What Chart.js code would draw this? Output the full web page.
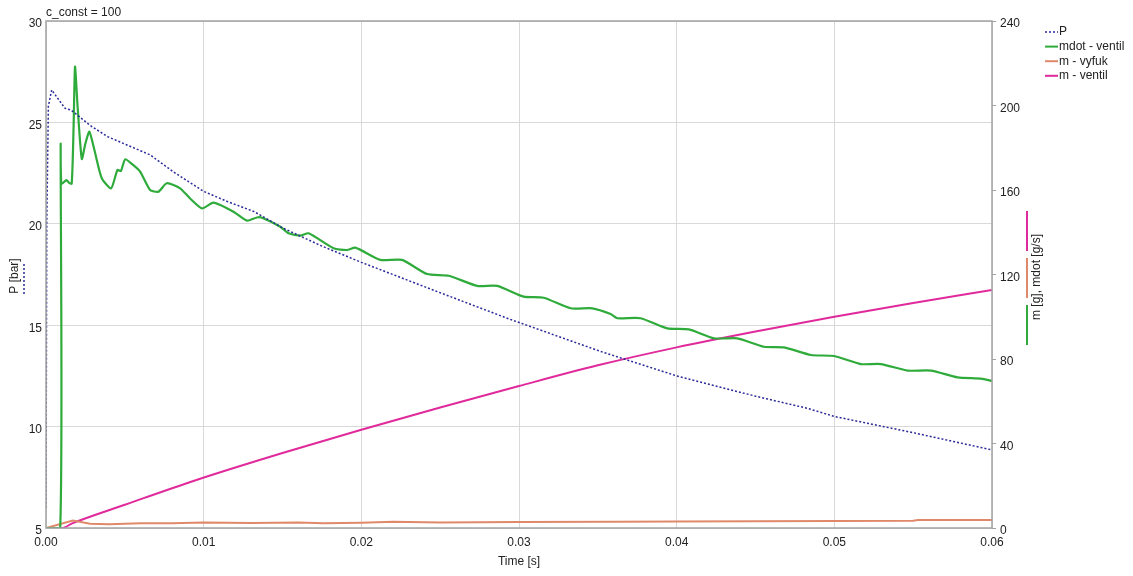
<!DOCTYPE html>
<html>
<head>
<meta charset="utf-8">
<title>c_const = 100</title>
<script src="https://cdn.jsdelivr.net/npm/chart.js@4.4.1/dist/chart.umd.min.js"></script>
<style>
    body { margin: 0; background: #fff; }
    #wrap { width: 1133px; height: 576px; }
</style>
</head>
<body>
<div id="wrap"><canvas id="chart" width="1133" height="576"></canvas></div>
<script>
// P [bar]
const timeP = [0, 0.00005, 0.00015, 0.00036, 0.0012, 0.0016, 0.0028, 0.0039, 0.0051, 0.0066, 0.0081, 0.0100, 0.0115, 0.0132, 0.0150, 0.0175, 0.0200, 0.0250, 0.0294, 0.0352, 0.0400, 0.0450, 0.0483, 0.0500, 0.0550, 0.0600];
const pressure = [6.0, 20.0, 25.8, 26.6, 25.7, 25.6, 24.85, 24.3, 23.9, 23.4, 22.55, 21.6, 21.1, 20.6, 19.8, 18.9, 18.1, 16.6, 15.3, 13.7, 12.5, 11.5, 10.9, 10.5, 9.7, 8.85];

// mdot - ventil [g/s]
const timeMdot = [0, 0.0009, 0.00093, 0.00098, 0.0013, 0.00145, 0.00163, 0.00175, 0.00184, 0.0020, 0.00227, 0.0025, 0.00275, 0.0031, 0.00354, 0.00413, 0.00453, 0.00475, 0.00502, 0.0055, 0.00597, 0.0066, 0.00713, 0.00766, 0.00851, 0.00914, 0.00989, 0.01063, 0.01189, 0.01274, 0.01338, 0.0137, 0.01486, 0.01539, 0.01613, 0.01666, 0.01824, 0.01909, 0.01962, 0.0212, 0.02258, 0.02417, 0.02554, 0.02735, 0.02862, 0.0303, 0.03157, 0.03327, 0.03465, 0.03581, 0.03624, 0.03771, 0.03941, 0.04078, 0.04237, 0.04385, 0.04554, 0.04681, 0.04851, 0.04999, 0.05168, 0.05295, 0.05465, 0.05613, 0.05782, 0.0593, 0.0600];
const mdotVentil = [0, 0, 181.6, 163, 164.7, 163.5, 163, 190, 218.4, 200, 174.7, 182, 187.6, 178, 165.5, 160.8, 169.5, 169, 174.5, 172, 168.7, 160, 159.2, 163.2, 160.8, 156, 151.3, 154, 149.7, 145.5, 147, 146.9, 142.6, 139.5, 138.4, 139.5, 132.4, 131.6, 132.7, 126.9, 126.9, 120.2, 119.4, 114.6, 114.6, 109.5, 109, 104, 104, 101.3, 99.3, 99.3, 94.5, 94, 89.8, 89.8, 85.8, 85.5, 81.9, 81.4, 77.6, 77.6, 74.5, 74.5, 71.3, 70.7, 69.6];

// m - vyfuk [g]
const timeVyfuk = [0, 0.0017, 0.0028, 0.0040, 0.0060, 0.0080, 0.0100, 0.0130, 0.0160, 0.0176, 0.0200, 0.0220, 0.0250, 0.0300, 0.0360, 0.0400, 0.0450, 0.0500, 0.0550, 0.0553, 0.0600];
const mVyfuk = [0, 3.5, 2.0, 1.8, 2.3, 2.3, 2.6, 2.4, 2.6, 2.2, 2.5, 2.9, 2.6, 2.8, 3.0, 3.1, 3.2, 3.3, 3.4, 3.8, 3.8];

// m - ventil [g]
const timeVentil = [0, 0.0010, 0.0017, 0.0050, 0.0094, 0.0150, 0.0200, 0.0250, 0.0300, 0.0350, 0.0400, 0.0450, 0.0500, 0.0550, 0.0600];
const mVentil = [0, 0, 2.3, 11, 22.4, 35.5, 46.5, 57, 67.2, 77, 85.5, 93, 100, 106.5, 112.7];

const xTicks = [0, 0.01, 0.02, 0.03, 0.04, 0.05, 0.06];

const FONT = 'Liberation Sans, Arial, sans-serif';

function toPoints(xs, ys) {
    return xs.map((x, i) => ({ x: x, y: ys[i] }));
}

const legendItems = [
    { label: 'P', color: '#2a2a9a', dash: [2, 2] },
    { label: 'mdot - ventil', color: '#2eab3a', dash: [] },
    { label: 'm - vyfuk', color: '#e0896a', dash: [] },
    { label: 'm - ventil', color: '#e02a9c', dash: [] }
];

// legend, axis titles, title and frame
const decorations = {
    id: 'decorations',
    afterDraw(chart) {
        const ctx = chart.ctx;
        const area = chart.chartArea;
        ctx.save();

        ctx.strokeStyle = '#a3a3a3';
        ctx.lineWidth = 1.5;
        ctx.strokeRect(area.left, area.top, area.right - area.left, area.bottom - area.top);

        ctx.fillStyle = '#222';
        ctx.font = '12px ' + FONT;
        ctx.textBaseline = 'middle';
        ctx.textAlign = 'left';
        ctx.fillText('c_const = 100', area.left, 13);

        ctx.textAlign = 'center';
        ctx.fillText('Time [s]', (area.left + area.right) / 2, 562);

        // legend
        legendItems.forEach((item, i) => {
            const y = 32 + i * 14.6;
            ctx.strokeStyle = item.color;
            ctx.lineWidth = item.dash.length ? 1.5 : 2;
            ctx.setLineDash(item.dash);
            ctx.beginPath();
            ctx.moveTo(1045, y);
            ctx.lineTo(1058, y);
            ctx.stroke();
            ctx.setLineDash([]);
            ctx.fillStyle = '#222';
            ctx.textAlign = 'left';
            ctx.fillText(item.label, 1059, y);
        });

        // left axis title
        ctx.save();
        ctx.translate(15, 276);
        ctx.rotate(-Math.PI / 2);
        ctx.textAlign = 'center';
        ctx.fillStyle = '#222';
        ctx.fillText('P [bar]', 0, 0);
        ctx.restore();
        ctx.strokeStyle = '#2a2a9a';
        ctx.lineWidth = 1.5;
        ctx.setLineDash([2, 2]);
        ctx.beginPath();
        ctx.moveTo(24, 264);
        ctx.lineTo(24, 296);
        ctx.stroke();
        ctx.setLineDash([]);

        // right axis title
        ctx.save();
        ctx.translate(1037, 277);
        ctx.rotate(-Math.PI / 2);
        ctx.textAlign = 'center';
        ctx.fillStyle = '#222';
        ctx.fillText('m [g], mdot [g/s]', 0, 0);
        ctx.restore();
        [['#e02a9c', 211, 251], ['#e0896a', 258, 298], ['#2eab3a', 305, 345]].forEach(seg => {
            ctx.strokeStyle = seg[0];
            ctx.lineWidth = 2;
            ctx.beginPath();
            ctx.moveTo(1027, seg[1]);
            ctx.lineTo(1027, seg[2]);
            ctx.stroke();
        });

        ctx.restore();
    }
};

function renderChart() {
    const ctx = document.getElementById('chart').getContext('2d');

    new Chart(ctx, {
        type: 'line',
        data: {
            datasets: [
                {
                    label: 'P',
                    data: toPoints(timeP, pressure),
                    yAxisID: 'yP',
                    borderColor: '#2a2a9a',
                    borderWidth: 1.5,
                    borderDash: [2, 2],
                    pointRadius: 0,
                    order: 0
                },
                {
                    label: 'mdot - ventil',
                    data: toPoints(timeMdot, mdotVentil),
                    yAxisID: 'yM',
                    borderColor: '#2eab3a',
                    borderWidth: 2.2,
                    pointRadius: 0,
                    tension: 0.2,
                    order: 1
                },
                {
                    label: 'm - vyfuk',
                    data: toPoints(timeVyfuk, mVyfuk),
                    yAxisID: 'yM',
                    borderColor: '#e0896a',
                    borderWidth: 2,
                    pointRadius: 0,
                    order: 2
                },
                {
                    label: 'm - ventil',
                    data: toPoints(timeVentil, mVentil),
                    yAxisID: 'yM',
                    borderColor: '#e02a9c',
                    borderWidth: 2,
                    pointRadius: 0,
                    cubicInterpolationMode: 'monotone',
                    order: 3
                }
            ]
        },
        options: {
            responsive: false,
            animation: false,
            layout: { padding: { top: 21, left: 0, right: 0, bottom: 0 } },
            plugins: {
                legend: { display: false },
                tooltip: { enabled: false }
            },
            scales: {
                x: {
                    type: 'linear',
                    min: 0,
                    max: 0.06,
                    afterBuildTicks: scale => { scale.ticks = xTicks.map(v => ({ value: v })); },
                    afterFit: scale => { scale.height = 48; },
                    grid: { color: '#d9d9d9', drawTicks: false },
                    border: { display: false },
                    ticks: {
                        padding: 7,
                        color: '#222',
                        font: { family: FONT, size: 12 },
                        maxRotation: 0,
                        callback: value => value.toFixed(2)
                    }
                },
                yP: {
                    position: 'left',
                    min: 5,
                    max: 30,
                    afterFit: scale => { scale.width = 46; },
                    grid: { color: '#d9d9d9', drawTicks: false },
                    border: { display: false },
                    ticks: {
                        stepSize: 5,
                        padding: 4,
                        labelOffset: 3,
                        color: '#222',
                        font: { family: FONT, size: 12 }
                    }
                },
                yM: {
                    position: 'right',
                    min: 0,
                    max: 240,
                    afterFit: scale => { scale.width = 141; },
                    grid: { drawOnChartArea: false, drawTicks: true, tickLength: 4, color: '#a3a3a3' },
                    border: { display: false },
                    ticks: {
                        stepSize: 40,
                        padding: 4,
                        labelOffset: 3,
                        color: '#222',
                        font: { family: FONT, size: 12 }
                    }
                }
            }
        },
        plugins: [decorations]
    });
}

renderChart();
</script>
</body>
</html>
